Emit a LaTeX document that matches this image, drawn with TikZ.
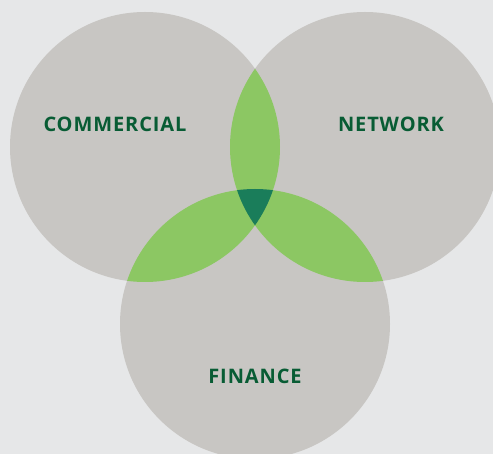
\documentclass[tikz,border=0pt]{standalone}
\usepackage{fontspec}
\setmainfont{Open Sans}[LetterSpace=4.5]
\usetikzlibrary{positioning}

\definecolor{paper}{RGB}{230,231,232}
\definecolor{disc}{RGB}{200,198,195}
\definecolor{lens}{RGB}{140,199,99}
\definecolor{core}{RGB}{26,125,90}
\definecolor{ink}{RGB}{8,92,52}

% the three discs, centres in pixel units
\newcommand{\commdisc}{(145,147) circle[radius=135pt]}
\newcommand{\netdisc}{(365,147) circle[radius=135pt]}
\newcommand{\findisc}{(255,324) circle[radius=135pt]}

\tikzset{lbl/.style={font=\bfseries\fontsize{20}{20}\selectfont, text=ink, inner sep=0pt}}

\begin{document}
\begin{tikzpicture}[x=1pt,y=-1pt]
    \fill[paper] (0,0) rectangle (493,454);
    \useasboundingbox (0,0) rectangle (493,454);
    \clip (0,0) rectangle (493,454);
    \fill[disc] \commdisc \netdisc \findisc;
    % pairwise overlaps
    \begin{scope}
      \clip \commdisc;
      \fill[lens] \netdisc;
      \fill[lens] \findisc;
    \end{scope}
    \begin{scope}
      \clip \netdisc;
      \fill[lens] \findisc;
      \clip \findisc;
      \clip \commdisc;
      \fill[core] (0,0) rectangle (493,454);
    \end{scope}
    \node[lbl] (commercial) at (115,124) {COMMERCIAL};
    \node[lbl] (network) at (391,124) {NETWORK};
    \node[lbl] (finance) at (255,376) {FINANCE};
\end{tikzpicture}
\end{document}
